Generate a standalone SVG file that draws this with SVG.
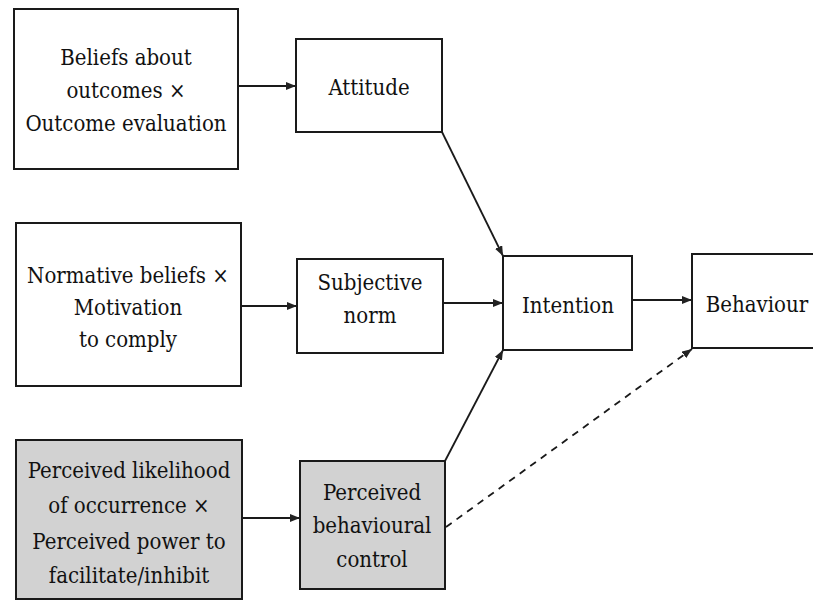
<svg xmlns="http://www.w3.org/2000/svg" width="813" height="601" viewBox="0 0 813 601">
<defs>
<marker id="ah" viewBox="0 0 10 8" refX="10" refY="4" markerWidth="10" markerHeight="8" markerUnits="userSpaceOnUse" orient="auto">
<path d="M0,0 L10,4 L0,8 Z" fill="#222"/>
</marker>
</defs>
<style>
.box{fill:#fff;stroke:#1a1a1a;stroke-width:2}
.grey{fill:#d2d2d2;stroke:#1a1a1a;stroke-width:2}
.t{font-family:'DejaVu Serif Condensed','DejaVu Serif','Liberation Serif',serif;font-stretch:condensed;font-size:22px;fill:#111;text-anchor:middle}
.c{stroke:#1a1a1a;stroke-width:1.8;fill:none;marker-end:url(#ah)}
.d{stroke-dasharray:7,6}
</style>
<rect width="813" height="601" fill="#fff"/>
<g id="beliefs">
<rect class="box" x="14" y="9" width="224" height="160"/>
<text class="t" x="126" y="65">Beliefs about</text>
<text class="t" x="126" y="98">outcomes ×</text>
<text class="t" x="126" y="131">Outcome evaluation</text>
</g>
<g id="attitude">
<rect class="box" x="296" y="39" width="146" height="93"/>
<text class="t" x="369" y="95">Attitude</text>
</g>
<g id="normative">
<rect class="box" x="16" y="223" width="225" height="163"/>
<text class="t" x="128" y="283">Normative beliefs ×</text>
<text class="t" x="128" y="315">Motivation</text>
<text class="t" x="128" y="347">to comply</text>
</g>
<g id="subjective">
<rect class="box" x="297" y="259" width="146" height="94"/>
<text class="t" x="370" y="290">Subjective</text>
<text class="t" x="370" y="323">norm</text>
</g>
<g id="likelihood">
<rect class="grey" x="16" y="440" width="226" height="159"/>
<text class="t" x="129" y="478">Perceived likelihood</text>
<text class="t" x="129" y="513">of occurrence ×</text>
<text class="t" x="129" y="549">Perceived power to</text>
<text class="t" x="129" y="583">facilitate/inhibit</text>
</g>
<g id="pbc">
<rect class="grey" x="300" y="461" width="145" height="128"/>
<text class="t" x="372" y="500">Perceived</text>
<text class="t" x="372" y="533">behavioural</text>
<text class="t" x="372" y="567">control</text>
</g>
<g id="intention">
<rect class="box" x="503" y="256" width="129" height="94"/>
<text class="t" x="568" y="313">Intention</text>
</g>
<g id="behaviour">
<rect class="box" x="692" y="254" width="140" height="94"/>
<text class="t" x="757" y="312">Behaviour</text>
</g>
<g id="connectors">
<line class="c" x1="238" y1="86" x2="296" y2="86"/>
<line class="c" x1="241" y1="306" x2="297" y2="306"/>
<line class="c" x1="242" y1="518" x2="300" y2="518"/>
<line class="c" x1="442" y1="132" x2="503" y2="256"/>
<line class="c" x1="443" y1="303" x2="503" y2="303"/>
<line class="c" x1="445" y1="461" x2="503" y2="350"/>
<line class="c" x1="632" y1="300" x2="692" y2="300"/>
<line class="c d" x1="446" y1="527" x2="692" y2="349"/>
</g>
</svg>
